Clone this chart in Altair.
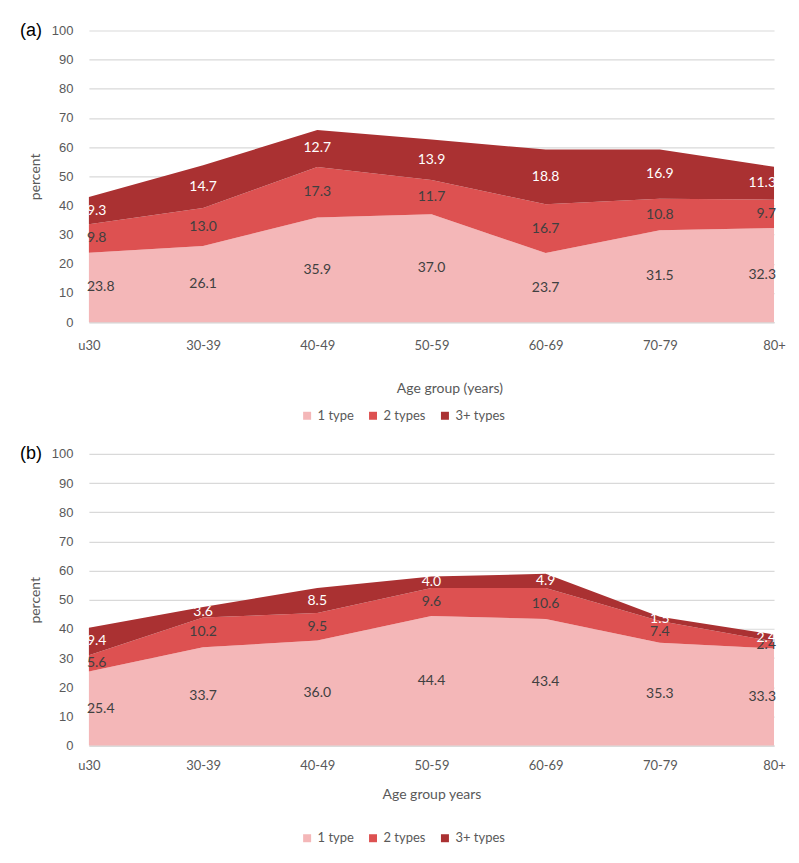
import altair as alt
import pandas as pd

ages = ["u30", "30-39", "40-49", "50-59", "60-69", "70-79", "80+"]
types = ["1 type", "2 types", "3+ types"]

a_one = [23.8, 26.1, 35.9, 37.0, 23.7, 31.5, 32.3]
a_two = [9.8, 13.0, 17.3, 11.7, 16.7, 10.8, 9.7]
a_three = [9.3, 14.7, 12.7, 13.9, 18.8, 16.9, 11.3]

b_one = [25.4, 33.7, 36.0, 44.4, 43.4, 35.3, 33.3]
b_two = [5.6, 10.2, 9.5, 9.6, 10.6, 7.4, 2.4]
b_three = [9.4, 3.6, 8.5, 4.0, 4.9, 1.5, 2.4]

y_ticks = [0, 10, 20, 30, 40, 50, 60, 70, 80, 90, 100]
colors = ["#F4B7B8", "#DD5151", "#AA3132"]
label_colors = ["#404040", "#404040", "#FFFFFF"]

GRAY = "#595959"


def make_df(one, two, three):
    rows = []
    n = len(ages)
    for i, age in enumerate(ages):
        pos = "first" if i == 0 else ("last" if i == n - 1 else "mid")
        for k, (t, vals) in enumerate(zip(types, [one, two, three])):
            rows.append({"age": age, "type": t, "value": vals[i], "ord": k,
                         "pos": pos, "lc": label_colors[k]})
    return pd.DataFrame(rows)


def panel(df, tag, xtitle, title_x, title_y, label_pad, legend_y):
    xscale = alt.Scale(type="point", padding=0)
    xaxis = alt.Axis(title=xtitle, labelAngle=0, labelPadding=label_pad,
                     ticks=False, tickSize=0, grid=False,
                     domainColor="#D9D9D9", domainWidth=1.5,
                     labelFont="Lato", labelFontSize=13, labelColor=GRAY,
                     titleFont="Lato", titleFontSize=14, titleColor=GRAY,
                     titleFontWeight="normal", titleX=title_x, titleY=title_y,
                     titleBaseline="middle")
    yscale = alt.Scale(domain=[0, 100], nice=False)
    yaxis = alt.Axis(values=y_ticks, title="percent", domain=False,
                     ticks=False, tickSize=0, labelPadding=16,
                     gridColor="#D9D9D9", gridWidth=1.2,
                     labelFont="Liberation Sans", labelFontSize=13,
                     labelColor=GRAY, titleFont="Lato", titleFontSize=14,
                     titleColor=GRAY, titleFontWeight="normal",
                     titleX=-53, titleY=146, titleAngle=-90,
                     titleBaseline="middle", titleAlign="center")
    area = alt.Chart(df).mark_area(opacity=1).encode(
        x=alt.X("age:N", sort=ages, scale=xscale, axis=xaxis, title=xtitle),
        y=alt.Y("value:Q", stack="zero", scale=yscale, axis=yaxis, title="percent"),
        color=alt.Color("type:N", scale=alt.Scale(domain=types, range=colors),
                        legend=alt.Legend(orient="none", legendX=212, legendY=legend_y,
                                          direction="horizontal", title=None,
                                          symbolType="square", symbolSize=64,
                                          symbolStrokeWidth=0, labelFont="Lato",
                                          labelFontSize=13, labelColor=GRAY,
                                          columnPadding=12, padding=0, labelOffset=4)),
        order=alt.Order("ord:Q"),
    )

    lab_base = alt.Chart(df).transform_stack(
        stack="value", groupby=["age"], as_=["y0", "y1"],
        sort=[alt.SortField("ord", order="ascending")]
    ).transform_calculate(mid="(datum.y0 + datum.y1) / 2")

    def tl(pos, align, dx):
        return lab_base.transform_filter(alt.datum.pos == pos).mark_text(
            align=align, dx=dx, baseline="middle", font="Lato", fontSize=14
        ).encode(
            x=alt.X("age:N", sort=ages, scale=xscale, axis=xaxis, title=xtitle),
            y=alt.Y("mid:Q", scale=yscale, axis=yaxis, title="percent"),
            text=alt.Text("value:Q", format=".1f"),
            color=alt.Color("lc:N", scale=None),
        )

    tag_layer = alt.Chart(pd.DataFrame({"t": [tag]})).mark_text(
        align="left", baseline="middle", font="Liberation Sans", fontSize=18,
        color="black"
    ).encode(x=alt.value(-69), y=alt.value(0), text="t:N")

    return alt.layer(area, tl("first", "left", -2), tl("mid", "center", 0),
                     tl("last", "right", 2), tag_layer).properties(width=686, height=292)


pa = panel(make_df(a_one, a_two, a_three), "(a)", "Age group (years)", 361, 66, 17, 379)
pb = panel(make_df(b_one, b_two, b_three), "(b)", "Age group years", 343, 49, 14, 378)

chart = alt.vconcat(pa, pb, spacing=132, bounds="flush").resolve_legend(
    color="independent"
).properties(
    padding={"left": 12, "top": 13, "right": 5, "bottom": 5}
).configure_view(stroke=None)

chart.save("out.html", embed_options={"renderer": "svg", "actions": False})
